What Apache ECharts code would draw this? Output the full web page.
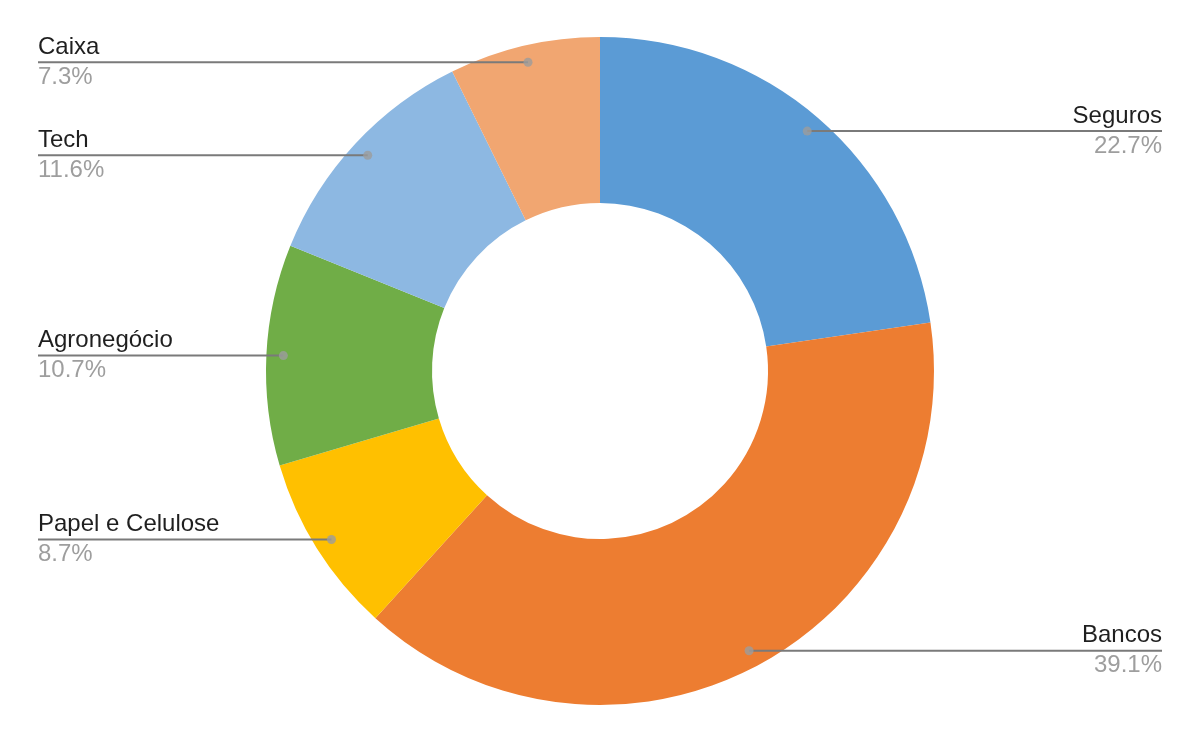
<!DOCTYPE html>
<html>
<head>
<meta charset="utf-8">
<script src="https://cdn.jsdelivr.net/npm/echarts@6/dist/echarts.min.js"></script>
<style>html,body{margin:0;padding:0;background:#fff}#c{width:1200px;height:742px}</style>
</head>
<body>
<div id="c"></div>
<script>
const categories = ['Seguros', 'Bancos', 'Papel e Celulose', 'Agronegócio', 'Tech', 'Caixa'];
const values = [22.7, 39.1, 8.7, 10.7, 11.6, 7.3];
const colors = ['#5B9BD5', '#ED7D31', '#FFC000', '#70AD47', '#8DB8E2', '#F1A671'];

const CX = 600, CY = 371, R0 = 168, R1 = 334, RDOT = 317;
const W = 1200, EDGE = 38;
const total = values.reduce((a, b) => a + b, 0);

// dot positions along the polar angle axis (mid-angle of each slice)
const dotData = [];
let acc = 0;
values.forEach(v => { dotData.push([RDOT, acc + v / 2]); acc += v; });

const chart = echarts.init(document.getElementById('c'), null, { renderer: 'canvas' });
const FONT = 'Arial, "Liberation Sans", Helvetica, sans-serif';

const pieData = categories.map((n, i) => ({ name: n, value: values[i], itemStyle: { color: colors[i] } }));

chart.setOption({
  animation: false,
  backgroundColor: '#ffffff',
  polar: { center: [CX, CY], radius: R1 },
  angleAxis: { type: 'value', min: 0, max: total, startAngle: 90, clockwise: true, show: false },
  radiusAxis: { type: 'value', min: 0, max: R1, show: false },
  series: [
    {
      type: 'pie',
      center: [CX, CY],
      radius: [R0, R1],
      startAngle: 90,
      clockwise: true,
      silent: true,
      emphasis: { disabled: true },
      itemStyle: { borderWidth: 0 },
      data: pieData,
      label: { show: false },
      labelLine: { show: false },
      z: 1
    },
    {
      type: 'pie',
      center: [CX, CY],
      radius: [R0, R1],
      startAngle: 90,
      clockwise: true,
      avoidLabelOverlap: false,
      silent: true,
      emphasis: { disabled: true },
      itemStyle: { color: 'rgba(0,0,0,0)', borderWidth: 0 },
      data: categories.map((n, i) => ({ name: n, value: values[i] })),
      label: {
        show: true,
        position: 'outside',
        fontFamily: FONT,
        formatter: p => '{n|' + p.name + '}\n{p|' + p.value + '%}',
        rich: {
          n: { fontSize: 24, color: '#1f1f1f', fontFamily: FONT, lineHeight: 30 },
          p: { fontSize: 24, color: '#9e9e9e', fontFamily: FONT, lineHeight: 30 }
        }
      },
      labelLine: { show: true, length: 0, length2: 0, lineStyle: { color: '#7a7a7a', width: 2 } },
      labelLayout: function (params) {
        let px, py;
        const pts = params.labelLinePoints;
        if (pts && pts[0]) {
          const k = RDOT / R1;
          px = CX + (pts[0][0] - CX) * k;
          py = CY + (pts[0][1] - CY) * k;
        } else {
          const mid = dotData[params.dataIndex][1] / total * Math.PI * 2;
          px = CX + RDOT * Math.sin(mid);
          py = CY - RDOT * Math.cos(mid);
        }
        const right = px > CX;
        const ex = right ? W - EDGE : EDGE;
        return {
          x: ex,
          y: py,
          align: right ? 'right' : 'left',
          verticalAlign: 'middle',
          labelLinePoints: [[px, py], [ex, py]]
        };
      },
      z: 3
    },
    {
      type: 'scatter',
      coordinateSystem: 'polar',
      data: dotData,
      symbol: 'circle',
      symbolSize: 9,
      silent: true,
      itemStyle: { color: '#9c9c9c' },
      z: 5
    }
  ]
});
</script>
</body>
</html>
